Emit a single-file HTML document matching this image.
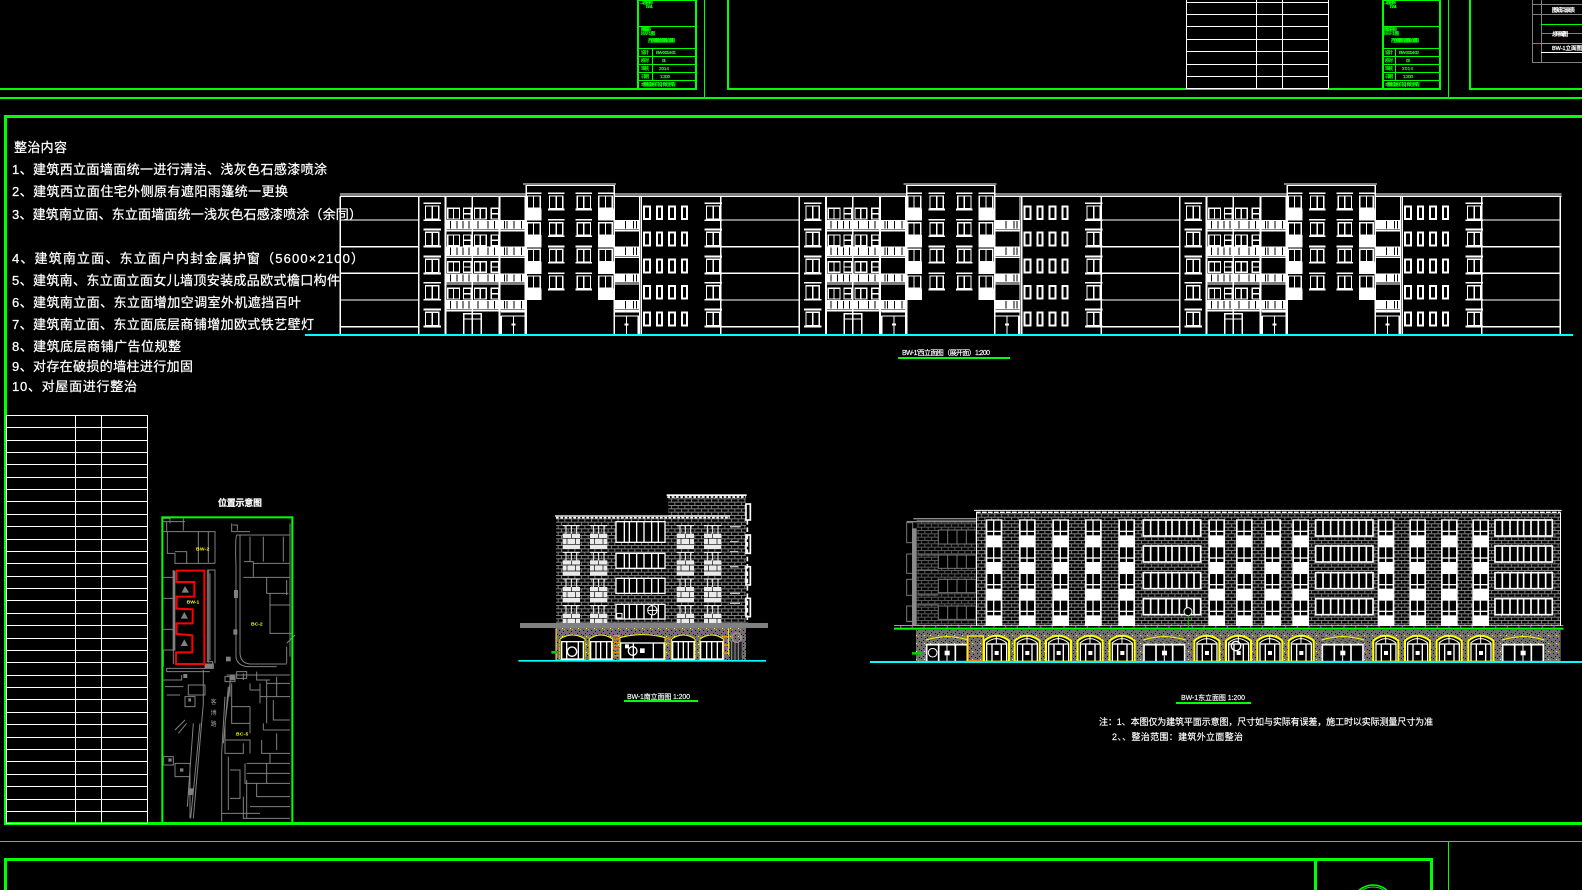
<!DOCTYPE html>
<html lang="zh">
<head>
<meta charset="utf-8">
<title>BW-1 立面整治图</title>
<style>
html,body{margin:0;padding:0;background:#000;width:1582px;height:890px;overflow:hidden}
svg{display:block}
text{font-family:"Liberation Sans","WenQuanYi Zen Hei","Noto Sans CJK SC",sans-serif}
.s{fill:none;stroke:#fff;stroke-width:3}
.w{fill:#fff}
.k{fill:#000}
.l{fill:none;stroke:#fff;stroke-width:3}
.u .s,.u .l{stroke-width:4}
.g{fill:#00ff00}
.gl{fill:none;stroke:#00ff00;stroke-width:1}
.t{fill:#00ff00;font-size:4.5px;stroke:#00ff00;stroke-width:.25}
.m{fill:#fff;font-size:13px;stroke:#fff;stroke-width:.25}
.y{fill:#ffff00;font-size:15px;font-weight:bold}
</style>
</head>
<body>
<svg width="1582" height="890" viewBox="0 0 1582 890" xmlns="http://www.w3.org/2000/svg">
<defs>
<pattern id="br" patternUnits="userSpaceOnUse" width="20" height="20">
<rect width="20" height="20" fill="#000"/>
<rect x="0" y="0" width="20" height="3" fill="#808080"/>
<rect x="0" y="10" width="20" height="3" fill="#808080"/>
<rect x="3" y="0" width="3" height="10" fill="#808080"/>
<rect x="13" y="10" width="3" height="10" fill="#808080"/>
</pattern>
<pattern id="brd" patternUnits="userSpaceOnUse" width="20" height="20">
<rect width="20" height="20" fill="#000"/>
<rect x="0" y="0" width="20" height="3" fill="#5a5a5a"/>
<rect x="0" y="10" width="20" height="3" fill="#5a5a5a"/>
<rect x="3" y="0" width="3" height="10" fill="#5a5a5a"/>
<rect x="13" y="10" width="3" height="10" fill="#5a5a5a"/>
</pattern>
<pattern id="gv" patternUnits="userSpaceOnUse" width="24" height="24">
<rect width="24" height="24" fill="#707070"/>
<rect x="3" y="3" width="3" height="3" fill="#000"/>
<rect x="15" y="6" width="3" height="3" fill="#000"/>
<rect x="9" y="12" width="3" height="3" fill="#000"/>
<rect x="21" y="15" width="3" height="3" fill="#000"/>
<rect x="3" y="18" width="3" height="3" fill="#000"/>
<rect x="12" y="21" width="3" height="3" fill="#ffff00"/>
<rect x="18" y="0" width="3" height="3" fill="#ff8c00"/>
<rect x="21" y="9" width="3" height="3" fill="#ff00ff"/>
</pattern>

<!-- west elevation unit -->
<g id="wall" class="u">
<path class="l" d="M482,80V494M718,80V494M482,150H718M482,230H718M482,310H718M482,390H718M482,470H718"/>
</g>
<g id="rA" class="u">
<rect class="w" x="732" y="97" width="52" height="5"/>
<rect class="s" x="738" y="108" width="40" height="40"/>
<path class="l" d="M758,108V148"/>
<rect class="w" x="732" y="148" width="52" height="5"/>
</g>
<g id="rB" class="u">
<rect class="s" x="805" y="115" width="35" height="32"/><path class="l" d="M822,115V147"/>
<rect class="s" x="852" y="115" width="23" height="32"/><path class="l" d="M852,131H875"/>
<rect class="s" x="885" y="115" width="35" height="32"/><path class="l" d="M902,115V147"/>
<rect class="s" x="935" y="115" width="23" height="32"/><path class="l" d="M935,131H958"/>
<rect class="w" x="800" y="150" width="238" height="28"/>
<path d="M813,153V175M832,153V175M850,153V175M868,153V175M895,153V175M925,153V175M945,153V175M975,153V175M983,153V175M1003,153V175M1026,153V175" stroke="#000" stroke-width="3"/>
<path class="l" d="M800,182H1038"/>
</g>
<g id="rT" class="u">
<rect class="s" x="1043" y="78" width="39" height="37"/><path class="l" d="M1062,78V115"/>
<rect class="w" x="1040" y="115" width="46" height="35"/>
<rect class="w" x="1040" y="67" width="46" height="5"/>
<rect class="w" x="1105" y="67" width="50" height="5"/>
<rect class="s" x="1110" y="78" width="40" height="38"/><path class="l" d="M1130,78V116"/>
<rect class="w" x="1105" y="116" width="50" height="5"/>
<rect class="w" x="1188" y="67" width="50" height="5"/>
<rect class="s" x="1193" y="78" width="40" height="38"/><path class="l" d="M1213,78V116"/>
<rect class="w" x="1188" y="116" width="50" height="5"/>
<rect class="w" x="1255" y="67" width="49" height="5"/>
<rect class="s" x="1258" y="78" width="40" height="37"/><path class="l" d="M1278,78V115"/>
<rect class="w" x="1255" y="115" width="49" height="35"/>
</g>
<g id="rR" class="u">
<rect class="w" x="1306" y="150" width="72" height="28"/>
<path d="M1338,153V175M1362,153V175M1371,153V175" stroke="#000" stroke-width="3"/>
<path class="l" d="M1306,182H1378"/>
</g>
<g id="rS" class="u">
<rect x="1394" y="109" width="17" height="38" fill="none" stroke="#fff" stroke-width="6"/>
<rect x="1433" y="109" width="15" height="38" fill="none" stroke="#fff" stroke-width="6"/>
<rect x="1469" y="109" width="17" height="38" fill="none" stroke="#fff" stroke-width="6"/>
<rect x="1508" y="109" width="15" height="38" fill="none" stroke="#fff" stroke-width="6"/>
</g>
<g id="door" class="u">
<path class="l" d="M1304,426H1378M1304,438H1378M1304,438V494M1376,438V494"/>
<path d="M1341,438V494" stroke="#fff" stroke-width="4"/>
<rect class="w" x="1335" y="461" width="12" height="5"/>
</g>
<g id="unit" class="u">
<use href="#wall"/>
<path class="w" d="M482,70H1038V74H482ZM482,77H1038V81H482ZM1306,70H1623V74H1306ZM1306,77H1623V81H1306Z"/>
<use href="#rA"/><use href="#rA" y="79"/><use href="#rA" y="160"/><use href="#rA" y="239"/><use href="#rA" y="319"/>
<use href="#rB"/><use href="#rB" y="80"/><use href="#rB" y="160"/><use href="#rB" y="240"/>
<path d="M798,80V494M878,80V494M960,80V494M1038,80V494" stroke="#fff" stroke-width="5"/>
<rect class="s" x="853" y="431" width="52" height="63"/><path class="l" d="M853,447H905M878,431V494"/>
<use href="#door" transform="translate(-339,0)"/>
<rect class="w" x="1030" y="40" width="280" height="4"/><rect class="w" x="1038" y="45" width="268" height="3"/>
<path class="l" d="M1040,46V494M1304,46V494"/>
<use href="#rT"/><use href="#rT" y="80"/><use href="#rT" y="160"/><use href="#rT" y="240"/>
<use href="#rR"/><use href="#rR" y="80"/><use href="#rR" y="160"/><use href="#rR" y="240"/>
<use href="#door"/>
<path class="l" d="M1380,80V494M1385,80V494"/>
<use href="#rS"/><use href="#rS" y="79"/><use href="#rS" y="160"/><use href="#rS" y="239"/><use href="#rS" y="319"/>
<g transform="translate(843,0)"><use href="#rA"/><use href="#rA" y="79"/><use href="#rA" y="160"/><use href="#rA" y="239"/><use href="#rA" y="319"/></g>
</g>

<!-- south column -->
<g id="sc1">
<rect x="0" y="26" width="52" height="46" fill="#eaeaea"/>
<path d="M0,40H52M0,58H52M26,26V40M13,40V58M39,40V58" stroke="#000" stroke-width="2"/>
<path class="l" d="M0,2H52M10,2V26M26,2V26M42,2V26"/>
</g>
<g id="sc"><use href="#sc1"/><use href="#sc1" y="80"/><use href="#sc1" y="160"/><use href="#sc1" y="240"/></g>

<!-- east -->
<g id="er">
<rect class="k" x="5" y="62" width="17" height="30"/><rect class="k" x="26" y="62" width="19" height="30"/>
<rect class="k" x="5" y="96" width="17" height="10"/><rect class="k" x="26" y="96" width="19" height="10"/>
</g>
<g id="ec">
<rect class="w" x="0" y="58" width="50" height="320"/>
<use href="#er"/><use href="#er" y="80"/><use href="#er" y="160"/><use href="#er" y="240"/>
</g>
<g id="ew1">
<rect x="0" y="0" width="172" height="48" fill="#000" stroke="#fff" stroke-width="5"/>
<path d="M22,0V48M45,0V48M68,0V48M86,0V48M108,0V48M130,0V48M152,0V48" stroke="#fff" stroke-width="5"/>
</g>
<g id="ew"><use href="#ew1" y="60"/><use href="#ew1" y="138"/><use href="#ew1" y="218"/><use href="#ew1" y="296"/></g>
<g id="nb">
<path d="M0,485V422Q37,392 75,422V485Z" fill="#000" stroke="#ffff00" stroke-width="6"/>
<path d="M6,430Q37,402 69,430" fill="none" stroke="#fff" stroke-width="3"/>
<path class="l" d="M37,408V430"/>
<rect x="8" y="432" width="60" height="53" fill="none" stroke="#fff" stroke-width="4"/>
<path d="M24,432V485M52,432V485" stroke="#fff" stroke-width="4"/>
<rect class="w" x="32" y="453" width="12" height="12"/>
</g>
<g id="wb">
<rect x="0" y="405" width="127" height="27" fill="url(#gv)"/>
<path d="M0,420Q63,400 127,420" fill="none" stroke="#ffff00" stroke-width="3"/>
<rect x="0" y="432" width="127" height="53" fill="#000"/>
<rect x="2" y="434" width="122" height="51" fill="none" stroke="#fff" stroke-width="5"/>
<path d="M38,434V485M88,434V485" stroke="#fff" stroke-width="5"/>
<path class="l" d="M63,434V452M63,466V485"/>
<rect class="w" x="56" y="452" width="15" height="14"/>
</g>
</defs>

<rect width="1582" height="890" fill="#000"/>

<!-- top frames -->
<g>
<rect class="g" x="0" y="88" width="697" height="2"/>
<rect class="g" x="695" y="0" width="2" height="90"/>
<rect class="g" x="727" y="0" width="2" height="90"/>
<rect class="g" x="727" y="88" width="714" height="2"/>
<rect class="g" x="1439" y="0" width="2" height="90"/>
<rect class="g" x="1469" y="0" width="2" height="90"/>
<rect class="g" x="1469" y="88" width="113" height="2"/>
<rect class="g" x="0" y="97" width="1582" height="2"/>
<rect class="g" x="704" y="0" width="1" height="97"/>
<rect class="g" x="1448" y="0" width="1" height="97"/>
</g>
<!-- title block 1 -->
<g id="tb1" shape-rendering="crispEdges">
<rect class="g" x="637" y="0" width="2" height="89"/>
<path class="gl" d="M638,0.5H696M638,26.5H696M638,48.5H696M638,56.5H696M638,64.5H696M638,72.5H696M638,80.5H696M652.5,48V80"/>
<text class="t" x="640" y="4" textLength="13">工程名称</text>
<text class="t" x="646" y="8" textLength="7">BW-1</text>
<text class="t" x="641" y="31" textLength="10">图纸名称</text>
<text class="t" x="641" y="35" textLength="14">BW-1图</text>
<text class="t" x="648" y="42" textLength="27">西立面图南立面图东立面图</text>
<text class="t" x="641" y="54" textLength="8">设计</text>
<text class="t" x="656" y="54" textLength="20">BW-2014-01</text>
<text class="t" x="641" y="62" textLength="8">校对</text>
<text class="t" x="662" y="62" textLength="4">01</text>
<text class="t" x="641" y="70" textLength="8">审核</text>
<text class="t" x="659" y="70" textLength="10">2014</text>
<text class="t" x="641" y="78" textLength="8">日期</text>
<text class="t" x="660" y="78" textLength="10">1:200</text>
<text class="t" x="641" y="86" textLength="35">本图纸版权归设计单位所有</text>
</g>
<!-- table top -->
<g fill="none" stroke="#fff" stroke-width="1" shape-rendering="crispEdges">
<path d="M1186.5,0V88.5H1328.5V0M1256.5,0V88M1282.5,0V88M1186,2.5H1328M1186,14.5H1328M1186,26.5H1328M1186,39.5H1328M1186,51.5H1328M1186,64.5H1328M1186,76.5H1328"/>
</g>
<!-- title block 2 -->
<g shape-rendering="crispEdges">
<rect class="g" x="1382" y="0" width="2" height="89"/>
<path class="gl" d="M1383,0.5H1440M1383,26.5H1440M1383,48.5H1440M1383,56.5H1440M1383,64.5H1440M1383,72.5H1440M1383,80.5H1440M1395.5,48V80"/>
<text class="t" x="1384" y="4" textLength="12">工程名称</text>
<text class="t" x="1390" y="8" textLength="7">BW-1</text>
<text class="t" x="1384" y="31" textLength="13">图纸名称</text>
<text class="t" x="1384" y="35" textLength="15">BW-1图</text>
<text class="t" x="1391" y="42" textLength="28">西立面图南立面图东立面图</text>
<text class="t" x="1385" y="54" textLength="8">设计</text>
<text class="t" x="1399" y="54" textLength="20">BW-2014-02</text>
<text class="t" x="1385" y="62" textLength="8">校对</text>
<text class="t" x="1406" y="62" textLength="4">02</text>
<text class="t" x="1385" y="70" textLength="8">审核</text>
<text class="t" x="1402" y="70" textLength="11">2014</text>
<text class="t" x="1385" y="78" textLength="8">日期</text>
<text class="t" x="1403" y="78" textLength="10">1:200</text>
<text class="t" x="1385" y="86" textLength="35">本图纸版权归设计单位所有</text>
</g>
<!-- top right table -->
<g shape-rendering="crispEdges">
<path d="M1532.5,0V62.5H1582M1541.5,0V62M1532,4.5H1582M1532,14.5H1582M1541,33.5H1582M1532,43.5H1541" fill="none" stroke="#808080" stroke-width="1"/>
<path d="M1541,24.5H1582M1541,43.5H1582" stroke="#00ff00" stroke-width="1"/>
<path d="M1541,52.5H1582" stroke="#fff" stroke-width="1"/>
<text x="1552" y="12" fill="#fff" stroke="#fff" stroke-width=".3" font-size="5.5" textLength="23">图纸目录表</text>
<text x="1552" y="36" fill="#fff" stroke="#fff" stroke-width=".3" font-size="5.5" textLength="16">总平面图</text>
<text x="1552" y="50" fill="#fff" stroke="#fff" stroke-width=".3" font-size="5.5" textLength="30">BW-1立面图</text>
</g>

<!-- main frame -->
<rect class="g" x="4" y="115" width="1578" height="3"/>
<rect class="g" x="4" y="115" width="3" height="710"/>
<rect class="g" x="4" y="822" width="1578" height="3"/>
<!-- bottom -->
<rect class="g" x="0" y="841" width="1582" height="1"/>
<rect class="g" x="1448" y="841" width="1" height="49"/>
<rect class="g" x="4" y="858" width="1428" height="3"/>
<rect class="g" x="4" y="858" width="3" height="32"/>
<rect class="g" x="1430" y="858" width="3" height="32"/>
<rect class="g" x="1314" y="858" width="3" height="32"/>
<circle cx="1373" cy="906" r="21" fill="none" stroke="#00ff00" stroke-width="1.5"/>
<circle cx="1373" cy="906" r="19" fill="none" stroke="#00ff00" stroke-width="1"/>

<!-- notes -->
<g>
<text class="m" x="14" y="152" textLength="53">整治内容</text>
<text class="m" x="12" y="174" textLength="315">1、建筑西立面墙面统一进行清洁、浅灰色石感漆喷涂</text>
<text class="m" x="12" y="196" textLength="276">2、建筑西立面住宅外侧原有遮阳雨篷统一更换</text>
<text class="m" x="12" y="219" textLength="350">3、建筑南立面、东立面墙面统一浅灰色石感漆喷涂（余同）</text>
<text class="m" x="12" y="263" textLength="352">4、建筑南立面、东立面户内封金属护窗（5600×2100）</text>
<text class="m" x="12" y="285" textLength="328">5、建筑南、东立面立面女儿墙顶安装成品欧式檐口构件</text>
<text class="m" x="12" y="307" textLength="289">6、建筑南立面、东立面增加空调室外机遮挡百叶</text>
<text class="m" x="12" y="329" textLength="302">7、建筑南立面、东立面底层商铺增加欧式铁艺壁灯</text>
<text class="m" x="12" y="351" textLength="169">8、建筑底层商铺广告位规整</text>
<text class="m" x="12" y="371" textLength="181">9、对存在破损的墙柱进行加固</text>
<text class="m" x="12" y="391" textLength="125">10、对屋面进行整治</text>
</g>

<!-- left table -->
<g fill="none" stroke="#fff" stroke-width="1" shape-rendering="crispEdges">
<rect x="6.5" y="415.5" width="141" height="408"/>
<path d="M75.5,415V823M101.5,415V823"/>
<path d="M6,427.5H147M6,440.5H147M6,452.5H147M6,464.5H147M6,477.5H147M6,489.5H147M6,501.5H147M6,514.5H147M6,526.5H147M6,539.5H147M6,551.5H147M6,563.5H147M6,576.5H147M6,588.5H147M6,600.5H147M6,613.5H147M6,625.5H147M6,638.5H147M6,650.5H147M6,662.5H147M6,675.5H147M6,687.5H147M6,699.5H147M6,712.5H147M6,724.5H147M6,737.5H147M6,749.5H147M6,761.5H147M6,774.5H147M6,786.5H147M6,799.5H147M6,811.5H147"/>
</g>

<!-- site plan -->
<text x="218" y="506" fill="#fff" stroke="#fff" stroke-width=".2" font-size="9" font-weight="bold" textLength="44">位置示意图</text>
<g transform="translate(150,490) scale(0.33333)">
<g fill="none" stroke="#808080" stroke-width="3">
<path d="M40,95H105M50,95V125M40,125H195V220M52,125V190H75V220H195M75,185H110V220M145,125V220M175,125V218M40,85H60V100M100,85V122"/>
<path d="M40,262H70V325H40M70,240V480M40,418H70V480H40M40,480V530M70,480V522M176,240V518"/>
<path d="M172,240H195V520M180,250V510M172,240V515H188V535H50V545H180M165,522H190V535H165Z"/>
<path d="M245,100V125H300M260,135H420M260,135Q255,150 258,230V500Q260,525 290,530H380M270,135V490Q272,520 300,522H410M248,105H262V122"/>
<path d="M282,215H310V260M310,220H420M280,262H420M350,262V310H360V430H425M360,345H420M350,310H415M410,270V315M410,470V520M410,460L435,435M420,100V500M300,140V215M400,140V215M340,140V215"/>
<path d="M230,555H420M240,560V620M225,560H255V575H225ZM245,580V700H300V650M245,650H300M300,580V600M330,580V640M330,620H420M350,570V700M350,580H420M370,630V690H420M280,550V570M320,545V570H360M260,545H290V565H260ZM380,560V620H420M300,600H330V640"/>
<path d="M340,720H420M335,750V790H420M225,700V790H280V760M225,750H300V790M290,820H420M285,820V880H420M280,920V985H420M215,790V970H330M235,800V960M240,840H270V925H240M300,700V730M380,730V780M340,700V720M360,790V820M320,880V920H420M350,820V880M290,850H420M300,950H420"/>
<path d="M160,540V640L130,985M150,700L122,985M130,700L112,950M225,620L215,790M240,580L225,700M215,970V995M235,590L220,760"/>
<path d="M45,590H100M50,615H90M105,620H135V650H105ZM40,800V825H70V800ZM75,820H120V860H75ZM75,720L105,690M85,730L110,700M120,860V985M290,870V985M40,570H95V555M115,585H165V615H115Z"/>
</g>
<rect x="240" y="555" width="14" height="16" fill="#808080"/><rect x="165" y="522" width="22" height="14" fill="#808080"/><rect x="115" y="895" width="14" height="20" fill="#808080"/><rect x="100" y="552" width="12" height="12" fill="#808080"/><rect x="68" y="242" width="8" height="240" fill="#808080"/><rect x="252" y="300" width="12" height="24" fill="#808080"/><rect x="250" y="418" width="12" height="16" fill="#808080"/><rect x="228" y="500" width="14" height="14" fill="#808080"/>
<path d="M105,288L117,308H95ZM103,366L114,386H92ZM103,448L114,468H92ZM55,805h10v10H55ZM90,835h10v10H90ZM115,625h8v10h-8Z" fill="#808080"/>
<path d="M80,242H163V522H78V487H127V436L80,432V400H128V358L80,356V320H133V276H80Z" fill="none" stroke="#ff0000" stroke-width="6"/>
<text class="y" x="138" y="181" textLength="40">BW-2</text>
<text class="y" x="110" y="341" textLength="38">BW-1</text>
<text class="y" x="303" y="407" textLength="35">BC-2</text>
<text class="y" x="258" y="737" textLength="37">BC-5</text>
<text x="182" y="642" fill="#9a9a9a" font-size="18">客</text>
<text x="182" y="675" fill="#9a9a9a" font-size="18">博</text>
<text x="182" y="708" fill="#9a9a9a" font-size="18">路</text>
<rect class="g" x="36" y="79" width="392" height="6"/>
<rect class="g" x="34" y="79" width="6" height="920"/>
<rect class="g" x="424" y="79" width="6" height="920"/>
</g>

<!-- west elevation -->
<g transform="translate(560,170) scale(0.33333)" shape-rendering="crispEdges">
<use href="#unit" transform="translate(-1141.5,0)"/>
<use href="#unit"/>
<use href="#unit" transform="translate(1141.5,0)"/>
<g transform="translate(2283,0)"><use href="#wall"/><path class="w" d="M482,70H722V74H482ZM482,77H722V81H482Z"/></g>
</g>
<rect x="305" y="334" width="1268" height="2" fill="#00ffff"/>
<text x="902" y="355" fill="#fff" stroke="#fff" stroke-width=".15" font-size="7" textLength="88">BW-1'西立面图（展开面）1:200</text>
<rect class="g" x="898" y="357" width="112" height="2"/>

<!-- south elevation -->
<g transform="translate(510,485) scale(0.33333)">
<rect x="475" y="35" width="233" height="380" fill="url(#br)"/>
<rect x="138" y="100" width="522" height="315" fill="url(#br)"/>
<rect class="w" x="470" y="28" width="240" height="5"/>
<path d="M472,36H708" stroke="#fff" stroke-width="5" stroke-dasharray="8 5" fill="none"/>
<rect class="w" x="135" y="91" width="525" height="4"/>
<path d="M138,98H660" stroke="#fff" stroke-width="5" stroke-dasharray="8 5" fill="none"/>
<use href="#sc" transform="translate(158,120)"/>
<use href="#sc" transform="translate(240,120)"/>
<use href="#sc" transform="translate(500,120)"/>
<use href="#sc" transform="translate(582,120)"/>
<g fill="#000" stroke="#fff" stroke-width="4">
<rect x="318" y="110" width="147" height="62"/>
<rect x="318" y="205" width="147" height="45"/>
<rect x="318" y="280" width="147" height="45"/>
<rect x="318" y="358" width="147" height="44"/>
</g>
<path d="M343,110V172M358,110V172M380,110V172M402,110V172M425,110V172M445,110V172M343,205V250M358,205V250M380,205V250M402,205V250M425,205V250M445,205V250M343,280V325M358,280V325M380,280V325M402,280V325M425,280V325M445,280V325M343,358V402M358,358V402M380,358V402M402,358V402M425,358V402M445,358V402" stroke="#fff" stroke-width="4" fill="none"/>
<circle cx="427" cy="376" r="14" fill="#000" stroke="#fff" stroke-width="3"/><path class="l" d="M427,362V390M413,376H441"/>
<path d="M320,385h16v14h-16z" fill="#000" stroke="#fff" stroke-width="3"/>
<g fill="none" stroke="#fff" stroke-width="5">
<rect x="708" y="57" width="13" height="48"/><rect x="708" y="150" width="13" height="55"/><rect x="708" y="245" width="13" height="55"/><rect x="708" y="340" width="13" height="55"/>
<path d="M712,105V415" stroke-dasharray="14 8"/>
</g>
<path d="M660,125H692M660,170H685M660,200H685M660,245H685M660,325H690M660,355H690" stroke="#bbb" stroke-width="4"/>
<rect x="138" y="428" width="570" height="97" fill="url(#gv)"/>
<rect x="30" y="414" width="744" height="15" fill="#808080"/>
<g fill="#000" stroke="#ffff00" stroke-width="3">
<path d="M150,525V462Q187,438 225,462V525Z"/>
<path d="M238,525V462Q272,438 308,462V525Z"/>
<path d="M330,525V458Q397,440 465,458V525Z"/>
<path d="M485,525V462Q520,438 555,462V525Z"/>
<path d="M570,525V462Q605,438 640,462V525Z"/>
</g>
<g fill="none" stroke="#fff" stroke-width="4">
<rect x="155" y="470" width="65" height="52"/><rect x="242" y="470" width="63" height="52"/><rect x="332" y="474" width="130" height="48"/><rect x="488" y="470" width="64" height="52"/><rect x="572" y="470" width="66" height="52"/>
<path d="M170,470V522M205,470V522M258,470V522M272,470V522M290,470V522M370,474V522M430,474V522M505,470V522M520,470V522M535,470V522M590,470V522M605,470V522M622,470V522"/>
<circle cx="186" cy="500" r="14"/><circle cx="368" cy="498" r="13"/>
</g>
<rect class="w" x="390" y="490" width="14" height="14"/><rect class="w" x="345" y="478" width="12" height="12"/>
<path d="M310,452H330M312,462H328M312,472H328M312,482H328M312,492H328M312,502H328M312,512H328M465,462H482M465,475H482M640,455H657M640,480H657M640,505H657" stroke="#ff8c00" stroke-width="4"/>
<path d="M138,430V525M655,430V510" stroke="#ffff00" stroke-width="3"/>
<rect x="660" y="470" width="35" height="55" fill="#222"/><path d="M665,470V525M675,470V525M685,470V525" stroke="#9a9a9a" stroke-width="3"/>
<circle cx="680" cy="458" r="14" fill="none" stroke="#9a9a9a" stroke-width="4"/>
<rect x="124" y="498" width="16" height="8" fill="#00cc00"/>
<rect x="25" y="525" width="743" height="5" fill="#00ffff"/>
</g>
<text x="627" y="699" fill="#fff" stroke="#fff" stroke-width=".15" font-size="7" textLength="63">BW-1南立面图 1:200</text>
<rect class="g" x="624" y="700" width="74" height="2"/>

<!-- east elevation -->
<g transform="translate(880,500) scale(0.33333)">
<rect x="110" y="60" width="180" height="318" fill="url(#brd)"/>
<path d="M100,56H290M80,65H290" stroke="#8c8c8c" stroke-width="4" fill="none"/>
<g fill="#000" stroke="#777" stroke-width="3">
<rect x="175" y="90" width="113" height="42"/><rect x="175" y="165" width="113" height="40"/><rect x="175" y="238" width="113" height="40"/><rect x="175" y="318" width="113" height="40"/>
<rect x="80" y="68" width="18" height="60"/><rect x="80" y="162" width="18" height="58"/><rect x="80" y="238" width="18" height="48"/><rect x="80" y="318" width="18" height="46"/>
</g>
<path d="M203,90V132M231,90V132M259,90V132M203,165V205M231,165V205M259,165V205M203,238V278M231,238V278M259,238V278M203,318V358M231,318V358M259,318V358M80,365H110M112,165H175M112,210H175M112,285H175M112,315H175" stroke="#777" stroke-width="3" fill="none"/>
<rect x="96" y="85" width="14" height="290" fill="#8a8a8a"/>

<rect x="290" y="38" width="1752" height="340" fill="url(#br)"/>
<path d="M282,31H2045" stroke="#fff" stroke-width="3"/>
<path d="M288,37H2042" stroke="#fff" stroke-width="4" stroke-dasharray="14 4"/>
<rect class="w" x="2040" y="38" width="3" height="340"/><rect class="w" x="288" y="38" width="3" height="340"/>
<use href="#ec" x="317"/><use href="#ec" x="417"/><use href="#ec" x="517"/><use href="#ec" x="615"/><use href="#ec" x="715"/>
<use href="#ew" x="790"/>
<use href="#ec" x="985"/><use href="#ec" x="1068"/><use href="#ec" x="1153"/><use href="#ec" x="1237"/>
<use href="#ew" x="1307"/>
<use href="#ec" x="1493"/><use href="#ec" x="1588"/><use href="#ec" x="1683"/><use href="#ec" x="1777"/>
<use href="#ew" x="1845"/>
<circle cx="924" cy="335" r="12" fill="#000" stroke="#fff" stroke-width="3"/>
<rect x="108" y="390" width="1934" height="95" fill="url(#gv)"/>
<use href="#wb" x="138"/>
<rect x="265" y="408" width="45" height="75" fill="none" stroke="#ff8c00" stroke-width="4"/>
<rect x="262" y="408" width="48" height="78" fill="none" stroke="#ffff00" stroke-width="3"/>
<use href="#nb" x="312"/><use href="#nb" x="404"/><use href="#nb" x="498"/><use href="#nb" x="593"/><use href="#nb" x="689"/>
<use href="#wb" x="790"/>
<use href="#nb" x="943"/><use href="#nb" x="1038"/><use href="#nb" x="1132"/><use href="#nb" x="1226"/>
<use href="#wb" x="1325"/>
<use href="#nb" x="1480"/><use href="#nb" x="1575"/><use href="#nb" x="1670"/><use href="#nb" x="1765"/>
<use href="#wb" x="1866"/>
<circle cx="158" cy="458" r="13" fill="#000" stroke="#fff" stroke-width="3"/>
<rect x="96" y="456" width="30" height="8" fill="#00cc00"/>
<circle cx="1068" cy="438" r="14" fill="none" stroke="#fff" stroke-width="4"/>
<rect x="42" y="383" width="2008" height="6" fill="#00ff00"/>
<path d="M42,377H2050" stroke="#fff" stroke-width="2"/>
<path d="M60,381H2040" stroke="#ff00ff" stroke-width="5" stroke-dasharray="4 31"/>
<path d="M925,345V384" stroke="#00cc00" stroke-width="3"/>
</g>
<rect x="870" y="661" width="712" height="2" fill="#00ffff"/>
<text x="1181" y="700" fill="#fff" stroke="#fff" stroke-width=".15" font-size="7" textLength="64">BW-1东立面图 1:200</text>
<rect class="g" x="1176" y="702" width="75" height="2"/>
<text x="1099" y="725" fill="#fff" stroke="#fff" stroke-width=".15" font-size="9" textLength="334">注：1、本图仅为建筑平面示意图，尺寸如与实际有误差，施工时以实际测量尺寸为准</text>
<text x="1112" y="740" fill="#fff" stroke="#fff" stroke-width=".15" font-size="9" textLength="131">2、、整治范围：建筑外立面整治</text>
</svg>
</body>
</html>
